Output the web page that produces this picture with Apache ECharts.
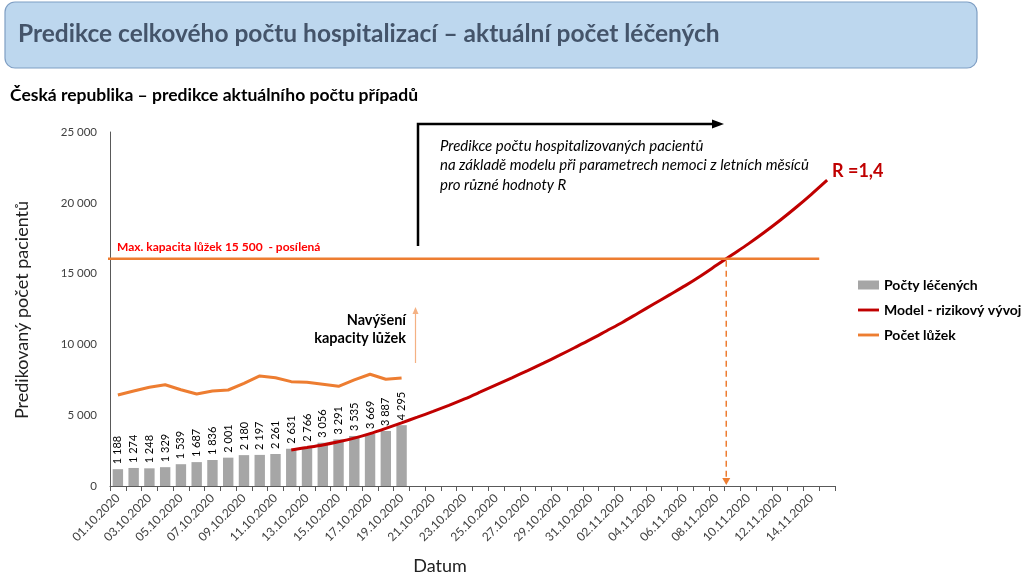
<!DOCTYPE html>
<html>
<head>
<meta charset="utf-8">
<script src="https://cdn.jsdelivr.net/npm/echarts@6/dist/echarts.min.js"></script>
<style>
html,body{margin:0;padding:0;background:#fff;}
#c{width:1024px;height:583px;}
</style>
</head>
<body>
<div id="c"></div>
<script>
const categories = [
 '01.10.2020','02.10.2020','03.10.2020','04.10.2020','05.10.2020','06.10.2020','07.10.2020','08.10.2020','09.10.2020','10.10.2020',
 '11.10.2020','12.10.2020','13.10.2020','14.10.2020','15.10.2020','16.10.2020','17.10.2020','18.10.2020','19.10.2020','20.10.2020',
 '21.10.2020','22.10.2020','23.10.2020','24.10.2020','25.10.2020','26.10.2020','27.10.2020','28.10.2020','29.10.2020','30.10.2020',
 '31.10.2020','01.11.2020','02.11.2020','03.11.2020','04.11.2020','05.11.2020','06.11.2020','07.11.2020','08.11.2020','09.11.2020',
 '10.11.2020','11.11.2020','12.11.2020','13.11.2020','14.11.2020','15.11.2020'
];
const treated = [1188,1274,1248,1329,1539,1687,1836,2001,2180,2197,2261,2631,2766,3056,3291,3535,3669,3887,4295];
const beds = [6430,6710,6970,7150,6800,6500,6710,6780,7250,7770,7650,7370,7320,7180,7040,7490,7890,7540,7630];
const model = [null,null,null,null,null,null,null,null,null,null,null,
 2550,2720,2900,3120,3380,3700,4070,4460,4860,5270,
 5700,6150,6640,7140,7640,8150,8680,9220,9780,10350,
 10950,11550,12200,12850,13500,14150,14850,15600,16350,17100,
 17900,18750,19650,20600,21600];
const capacity = 16050;
const crossingIndex = 38.6;

const F = 'Lato, "Noto Sans", sans-serif';
const chart = echarts.init(document.getElementById('c'));
const fmt = v => String(v).replace(/\B(?=(\d{3})+(?!\d))/g, ' ');

chart.setOption({
  animation:false,
  backgroundColor:'#fff',
  grid:{left:110,right:189,top:132,bottom:97,containLabel:false},
  legend:{
    orient:'vertical', left:853, top:273, itemGap:11, itemWidth:21, itemHeight:9,
    textStyle:{fontFamily:F,fontWeight:'bold',fontSize:14,color:'#000'},
    data:[
      {name:'Počty léčených',icon:'rect'},
      {name:'Model - rizikový vývoj',icon:'path://M0,0 L22,0 L22,3 L0,3 Z'},
      {name:'Počet lůžek',icon:'path://M0,0 L22,0 L22,3 L0,3 Z'}
    ]
  },
  xAxis:{
    type:'category', data:categories, boundaryGap:true,
    axisLine:{lineStyle:{color:'#595959',width:1}},
    axisTick:{show:true,interval:0,length:5,lineStyle:{color:'#595959'}},
    axisLabel:{interval:1,rotate:45,fontFamily:F,fontSize:12,color:'#404040',margin:10}
  },
  yAxis:{
    type:'value', min:0, max:25000, interval:5000,
    axisLine:{show:true,lineStyle:{color:'#595959'}},
    axisTick:{show:false},
    splitLine:{show:false},
    axisLabel:{fontFamily:F,fontSize:11.5,color:'#404040',margin:13,formatter:v=>fmt(v)}
  },
  series:[
    {name:'Počty léčených',type:'bar',data:treated,barWidth:'66%',
     itemStyle:{color:'#a6a6a6'},
     label:{show:true,position:'top',rotate:90,align:'left',verticalAlign:'middle',distance:5,
            fontFamily:F,fontSize:11,color:'#000',formatter:p=>fmt(p.value)}},
    {name:'Model - rizikový vývoj',type:'line',data:model,showSymbol:false,symbol:'none',smooth:0.3,
     lineStyle:{color:'#c00000',width:3},itemStyle:{color:'#c00000'},z:4},
    {name:'Počet lůžek',type:'line',data:beds,showSymbol:false,symbol:'none',
     lineStyle:{color:'#ed7d31',width:3},itemStyle:{color:'#ed7d31'},z:5}
  ]
});

const px = i => chart.convertToPixel({xAxisIndex:0}, categories[i]);
const py = v => chart.convertToPixel({yAxisIndex:0}, v);
const band = px(1) - px(0);
const xCross = px(38) + (crossingIndex-38)*band;
const yCap = py(capacity);
const y0 = py(0);
const capEnd = px(44) + band/2;

chart.setOption({
  graphic:[
    {type:'rect',shape:{x:5,y:2,width:972,height:66,r:10},style:{fill:'#bdd7ee',stroke:'#7f9fc4',lineWidth:1.2},z:10},
    {type:'text',x:18,y:34,style:{text:'Predikce celkového počtu hospitalizací – aktuální počet léčených',fontFamily:F,fontWeight:'bold',fontSize:24.5,fill:'#44546a',textVerticalAlign:'middle'},z:11},
    {type:'text',x:10,y:95,style:{text:'Česká republika – predikce aktuálního počtu případů',fontFamily:F,fontWeight:'bold',fontSize:17.5,fill:'#000',textVerticalAlign:'middle'},z:11},
    {type:'text',x:22,y:310,rotation:Math.PI/2,style:{text:'Predikovaný počet pacientů',fontFamily:F,fontSize:18,fill:'#222',textAlign:'center',textVerticalAlign:'middle'},z:11},
    {type:'text',x:440,y:566,style:{text:'Datum',fontFamily:F,fontSize:18,fill:'#222',textAlign:'center',textVerticalAlign:'middle'},z:11},
    {type:'line',shape:{x1:108,y1:yCap,x2:capEnd,y2:yCap},style:{stroke:'#ed7d31',lineWidth:2.5},z:6},
    {type:'text',x:117,y:247,style:{text:'Max. kapacita lůžek 15 500  - posílená',fontFamily:F,fontWeight:'bold',fontSize:12,fill:'#ff0000',textVerticalAlign:'middle'},z:11},
    {type:'line',shape:{x1:xCross,y1:yCap+2,x2:xCross,y2:y0-6},style:{stroke:'#ed7d31',lineWidth:1.5,lineDash:[6,4]},z:6},
    {type:'polygon',shape:{points:[[xCross-4,y0-8],[xCross+4,y0-8],[xCross,y0-1]]},style:{fill:'#ed7d31'},z:6},
    {type:'polyline',shape:{points:[[418,246],[418,124],[714,124]]},style:{stroke:'#000',lineWidth:2.5,fill:null},z:11},
    {type:'polygon',shape:{points:[[712,119.5],[724,124],[712,128.5]]},style:{fill:'#000'},z:11},
    {type:'text',x:440,y:146,style:{text:'Predikce počtu hospitalizovaných pacientů',fontFamily:F,fontStyle:'italic',fontSize:15,fill:'#000',textVerticalAlign:'middle'},z:11},
    {type:'text',x:440,y:165.5,style:{text:'na základě modelu při parametrech nemoci z letních měsíců',fontFamily:F,fontStyle:'italic',fontSize:15,fill:'#000',textVerticalAlign:'middle'},z:11},
    {type:'text',x:440,y:185,style:{text:'pro různé hodnoty R',fontFamily:F,fontStyle:'italic',fontSize:15,fill:'#000',textVerticalAlign:'middle'},z:11},
    {type:'text',x:832,y:171,style:{text:'R =1,4',fontFamily:F,fontWeight:'bold',fontSize:18,fill:'#c00000',textVerticalAlign:'middle'},z:11},
    {type:'text',x:406,y:320,style:{text:'Navýšení',fontFamily:F,fontWeight:'bold',fontSize:14.5,fill:'#000',textAlign:'right',textVerticalAlign:'middle'},z:11},
    {type:'text',x:406,y:338,style:{text:'kapacity lůžek',fontFamily:F,fontWeight:'bold',fontSize:14.5,fill:'#000',textAlign:'right',textVerticalAlign:'middle'},z:11},
    {type:'line',shape:{x1:415.5,y1:363,x2:415.5,y2:312},style:{stroke:'#f4b183',lineWidth:1.2},z:11},
    {type:'polygon',shape:{points:[[412.5,314],[418.5,314],[415.5,307]]},style:{fill:'#f4b183'},z:11}
  ]
});
</script>
</body>
</html>
